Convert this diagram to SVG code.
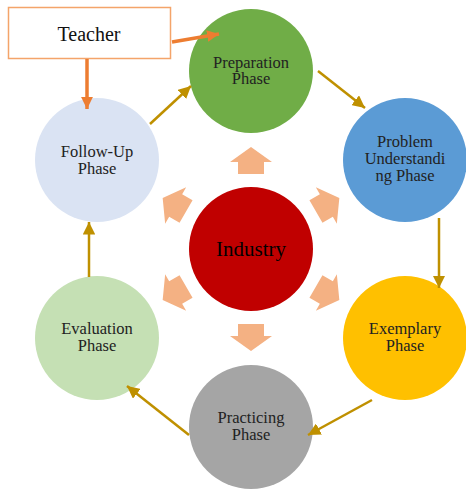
<svg xmlns="http://www.w3.org/2000/svg" width="466" height="491" viewBox="0 0 466 491">
<defs>
<style>
text{font-family:"Liberation Serif","Times New Roman",Times,"DejaVu Serif",serif}
.lbl{font-size:16.5px;fill:#222;text-anchor:middle}
.gold{stroke:#BF9000;stroke-width:2.5;fill:none}
.org{stroke:#ED7D31;stroke-width:3.5;fill:none}
.blk{fill:#F4B183}
</style>
<marker id="ag" viewBox="0 0 10 10" refX="10" refY="5" markerWidth="5" markerHeight="5" markerUnits="strokeWidth" orient="auto">
<path d="M0,0 L10,5 L0,10 z" fill="#BF9000"/>
</marker>
<marker id="ao" viewBox="0 0 10 10" refX="10" refY="5" markerWidth="3.4" markerHeight="3.4" markerUnits="strokeWidth" orient="auto">
<path d="M0,0 L10,5 L0,10 z" fill="#ED7D31"/>
</marker>
<path id="ba" d="M0,-102 L21,-87 L13,-87 L13,-75 L-13,-75 L-13,-87 L-21,-87 z"/>
</defs>
<rect width="466" height="491" fill="#fff"/>
<g id="block-arrows" class="blk" transform="translate(251,249)">
<use href="#ba"/>
<use href="#ba" transform="rotate(60)"/>
<use href="#ba" transform="rotate(120)"/>
<use href="#ba" transform="rotate(180)"/>
<use href="#ba" transform="rotate(240)"/>
<use href="#ba" transform="rotate(300)"/>
</g>
<g id="industry">
<circle cx="251" cy="249" r="62" fill="#C00000"/>
<text x="251" y="256" font-size="21" fill="#000" text-anchor="middle">Industry</text>
</g>
<g id="preparation">
<circle cx="251" cy="71" r="62" fill="#70AD47"/>
<text class="lbl" x="251" y="68">Preparation</text>
<text class="lbl" x="251" y="84">Phase</text>
</g>
<g id="problem">
<circle cx="405" cy="160" r="62" fill="#5B9BD5"/>
<text class="lbl" x="405" y="147">Problem</text>
<text class="lbl" x="405" y="164">Understandi</text>
<text class="lbl" x="405" y="181">ng Phase</text>
</g>
<g id="exemplary">
<circle cx="405" cy="338" r="62" fill="#FFC000"/>
<text class="lbl" x="405" y="334">Exemplary</text>
<text class="lbl" x="405" y="351">Phase</text>
</g>
<g id="practicing">
<circle cx="251" cy="427" r="62" fill="#A5A5A5"/>
<text class="lbl" x="251" y="423">Practicing</text>
<text class="lbl" x="251" y="440">Phase</text>
</g>
<g id="evaluation">
<circle cx="97" cy="338" r="62" fill="#C5E0B4"/>
<text class="lbl" x="97" y="334">Evaluation</text>
<text class="lbl" x="97" y="351">Phase</text>
</g>
<g id="followup">
<circle cx="97" cy="160" r="62" fill="#DAE3F3"/>
<text class="lbl" x="97" y="157">Follow-Up</text>
<text class="lbl" x="97" y="174">Phase</text>
</g>
<g id="teacher">
<rect x="8.5" y="7.5" width="162" height="51" fill="#fff" stroke="#F4A46A" stroke-width="1.5"/>
<text x="89" y="41" font-size="20" fill="#111" text-anchor="middle">Teacher</text>
</g>
<g id="connectors">
<line class="gold" x1="150" y1="124" x2="191" y2="86" marker-end="url(#ag)"/>
<line class="gold" x1="318" y1="71" x2="365" y2="108" marker-end="url(#ag)"/>
<line class="gold" x1="439" y1="218" x2="439" y2="288" marker-end="url(#ag)"/>
<line class="gold" x1="372" y1="400" x2="308" y2="435" marker-end="url(#ag)"/>
<line class="gold" x1="189" y1="435" x2="127" y2="386" marker-end="url(#ag)"/>
<line class="gold" x1="89" y1="277" x2="89" y2="222" marker-end="url(#ag)"/>
<line class="org" x1="172" y1="42" x2="219" y2="34" marker-end="url(#ao)"/>
<line class="org" x1="87" y1="59" x2="87" y2="109" marker-end="url(#ao)"/>
</g>
</svg>
